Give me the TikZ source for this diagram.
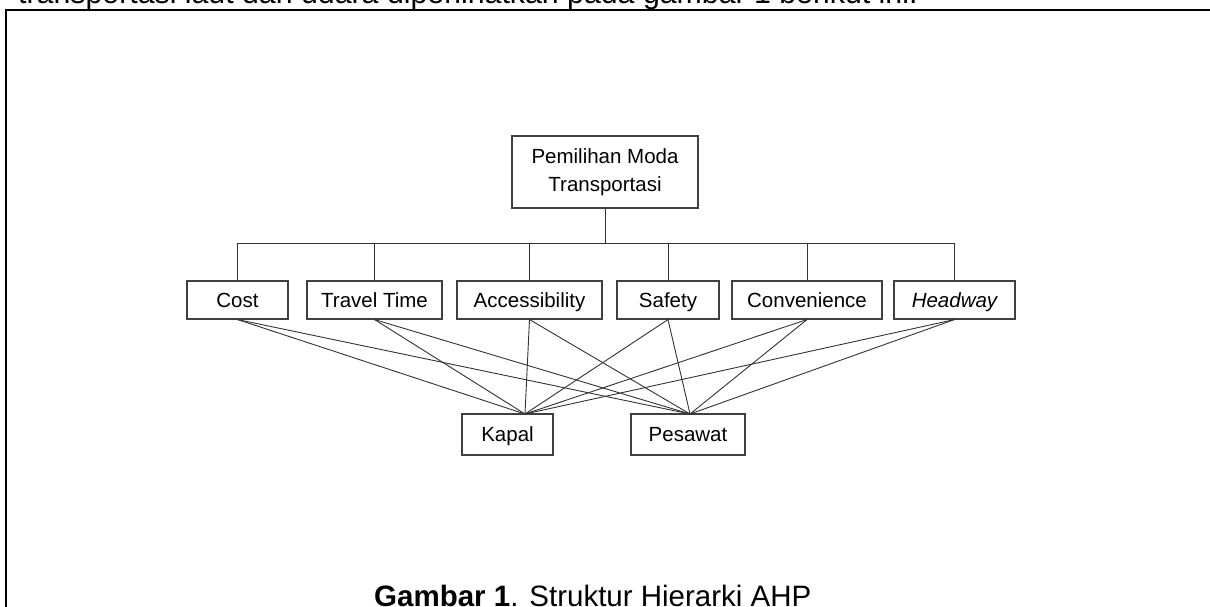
\documentclass[tikz,border=0pt]{standalone}
\usepackage{fontspec}
\setmainfont{Liberation Sans}
\begin{document}
\begin{tikzpicture}[x=1pt,y=-1pt,
  box/.style={draw=black!75, line width=1.1pt, inner sep=0pt, font=\fontsize{20.5}{24}\selectfont},
  crit/.style={box, minimum height=38pt, text height=14.5pt, text depth=0pt},
  alt/.style={box, minimum height=41pt, text height=14.5pt, text depth=0pt},
  link/.style={draw=black!80, line width=0.9pt},
  frame/.style={draw=black, line width=2.2pt}]
\useasboundingbox (0,0) rectangle (1210,607);
\clip (0,0) rectangle (1210,607);
\coordinate (fbl) at (6,608);
\coordinate (ftl) at (6,10);
\coordinate (ftr) at (1212,10);
\draw[frame] (fbl) -- (ftl) -- (ftr);
\node[anchor=base west, inner sep=0pt, font=\fontsize{30.3}{36}\selectfont] (intro) at (18,4) {transportasi laut dan udara diperlihatkan pada gambar 1 berikut ini.};
\node[anchor=base west, inner sep=0pt, font=\fontsize{29.5}{34}\selectfont] (caption) at (374,606) {\textbf{Gambar 1}. Struktur Hierarki AHP};
\node[box, minimum width=186pt, minimum height=72pt, align=center, font=\fontsize{20.5}{28}\selectfont] (goal) at (605,172) {Pemilihan Moda\\Transportasi};
\node[crit, minimum width=101pt] (cost) at (237.5,300) {Cost};
\node[crit, minimum width=135pt] (travel) at (374.5,300) {Travel Time};
\node[crit, minimum width=145pt] (acc) at (529.5,300) {Accessibility};
\node[crit, minimum width=102pt] (safety) at (668,300) {Safety};
\node[crit, minimum width=150pt] (conv) at (807,300) {Convenience};
\node[crit, minimum width=121pt] (head) at (954.5,300) {\itshape Headway};
\node[alt, minimum width=91pt] (kapal) at (507.5,434.5) {Kapal};
\node[alt, minimum width=114pt] (pesawat) at (688,434.5) {Pesawat};
\coordinate (bus) at (605,243);
\coordinate (kin) at (525,414);
\coordinate (pin) at (690,414);
\draw[link] (goal.south) -- (bus);
\draw[link] (cost.north) -- (cost.north |- bus) -- (head.north |- bus) -- (head.north);
\foreach \n in {travel,acc,safety,conv}{
  \draw[link] (\n.north) -- (\n.north |- bus);
}
\foreach \n in {cost,travel,acc,safety,conv,head}{
  \draw[link] (\n.south) -- (kin);
  \draw[link] (\n.south) -- (pin);
}
\end{tikzpicture}
\end{document}
